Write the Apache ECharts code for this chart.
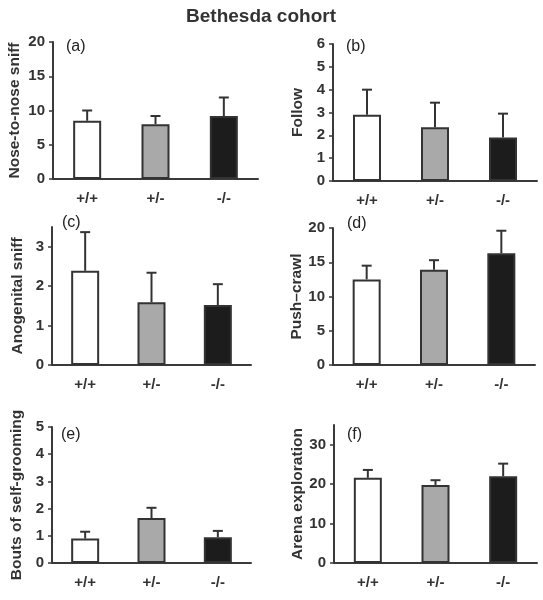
<!DOCTYPE html>
<html><head><meta charset="utf-8">
<script src="https://cdn.jsdelivr.net/npm/echarts@6/dist/echarts.min.js"></script>
<style>html,body{margin:0;padding:0;background:#fff}#c{width:543px;height:600px}</style>
</head><body><div id="c"></div>
<script>
const categories = ['+/+', '+/-', '-/-'];
const barColors = ['#ffffff', '#a9a9a9', '#1c1c1c'];

const noseMean = [8.5, 8.0, 9.2];
const noseUpper = [10.0, 9.2, 11.9];
const followMean = [2.9, 2.35, 1.9];
const followUpper = [4.0, 3.43, 2.95];
const anoMean = [2.39, 1.59, 1.52];
const anoUpper = [3.37, 2.34, 2.05];
const pushMean = [12.5, 13.9, 16.3];
const pushUpper = [14.5, 15.3, 19.6];
const groomMean = [0.9, 1.65, 0.95];
const groomUpper = [1.15, 2.03, 1.18];
const arenaMean = [21.6, 19.8, 22.0];
const arenaUpper = [23.6, 21.0, 25.2];

const panelNames = ['Nose-to-nose sniff', 'Follow', 'Anogenital sniff', 'Push\u2013crawl', 'Bouts of self-grooming', 'Arena exploration'];
const panelTags = ['(a)', '(b)', '(c)', '(d)', '(e)', '(f)'];
const yMax = [20, 6, 3.5, 20, 5, 35];
const yTicks = [[0,5,10,15,20],[0,1,2,3,4,5,6],[0,1,2,3],[0,5,10,15,20],[0,1,2,3,4,5],[0,10,20,30]];
const means = [noseMean, followMean, anoMean, pushMean, groomMean, arenaMean];
const uppers = [noseUpper, followUpper, anoUpper, pushUpper, groomUpper, arenaUpper];

const grids = [
  {left: 53, top: 42, width: 205, height: 137},
  {left: 333, top: 44, width: 204, height: 137},
  {left: 52, top: 227, width: 199, height: 138},
  {left: 333, top: 228, width: 202, height: 137},
  {left: 52, top: 427, width: 199, height: 136},
  {left: 334, top: 425, width: 203, height: 138}
];
const nameGaps = [30, 27, 26, 27, 27, 27];
const tagPos = [[61,34],[341,34],[57,210],[342,211],[56,422],[342,422]];

const font = 'Liberation Sans, Arial, sans-serif';
const axisCol = '#3a3a3a';

const xAxis = [], yAxis = [], series = [], titles = [];
titles.push({text: 'Bethesda cohort', left: 256, top: 2, textAlign: 'center',
  textStyle: {fontFamily: font, fontSize: 19, fontWeight: 'bold', color: '#333'}});
for (let i = 0; i < 6; i++) {
  xAxis.push({type: 'category', gridIndex: i, data: categories,
    axisLine: {lineStyle: {color: axisCol, width: 2}},
    axisTick: {alignWithLabel: true, length: 3, lineStyle: {color: axisCol, width: 1.5}},
    axisLabel: {margin: 12, fontFamily: font, fontSize: 15, fontWeight: 'bold', color: '#333'}});
  yAxis.push({type: 'value', gridIndex: i, min: 0, max: yMax[i],
    name: panelNames[i], nameLocation: 'middle', nameGap: nameGaps[i],
    nameTextStyle: {fontFamily: font, fontSize: 15.5, fontWeight: 'bold', color: '#333'},
    splitLine: {show: false},
    axisLine: {show: true, lineStyle: {color: axisCol, width: 2}},
    axisTick: {show: true, length: 4, customValues: yTicks[i], lineStyle: {color: axisCol, width: 1.5}},
    axisLabel: {margin: 8, customValues: yTicks[i], fontFamily: font, fontSize: 15, fontWeight: 'bold', color: '#333'}});
  series.push({type: 'bar', xAxisIndex: i, yAxisIndex: i, barWidth: 28,
    data: means[i].map((v, j) => ({value: v, itemStyle: {color: barColors[j]}})),
    itemStyle: {borderColor: '#333', borderWidth: 2}});
  series.push({type: 'custom', xAxisIndex: i, yAxisIndex: i, z: 3,
    data: means[i].map((v, j) => [j, v, uppers[i][j]]),
    renderItem: function (params, api) {
      const p0 = api.coord([api.value(0), api.value(1)]);
      const p1 = api.coord([api.value(0), api.value(2)]);
      const st = {stroke: '#333', lineWidth: 2};
      return {type: 'group', children: [
        {type: 'line', shape: {x1: p0[0], y1: p0[1], x2: p1[0], y2: p1[1]}, style: st},
        {type: 'line', shape: {x1: p1[0] - 5, y1: p1[1], x2: p1[0] + 5, y2: p1[1]}, style: st}
      ]};
    }});
  titles.push({text: panelTags[i], left: tagPos[i][0], top: tagPos[i][1],
    textStyle: {fontFamily: font, fontSize: 16, fontWeight: 'normal', color: '#222'}});
}
const chart = echarts.init(document.getElementById('c'));
chart.setOption({animation: false, backgroundColor: '#fff', title: titles,
  grid: grids, xAxis: xAxis, yAxis: yAxis, series: series});
</script></body></html>
